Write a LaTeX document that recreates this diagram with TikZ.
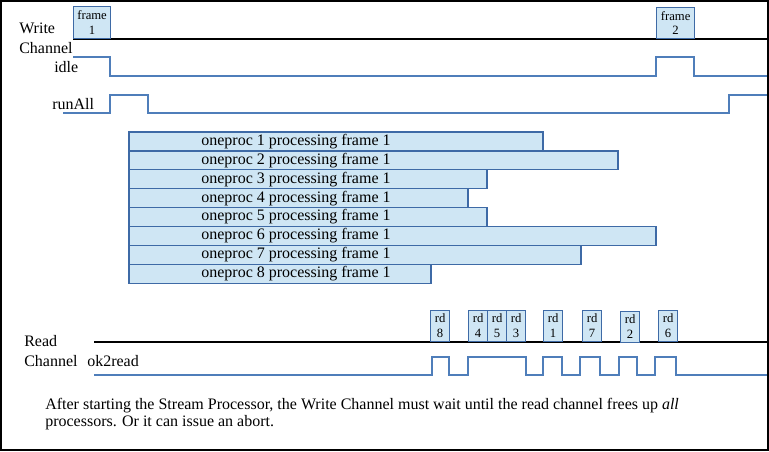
\documentclass[tikz,border=0pt]{standalone}
\usepackage{fontspec}
\setmainfont{Liberation Serif}
\definecolor{boxfill}{RGB}{207,230,244}
\definecolor{boxline}{RGB}{62,106,166}
\definecolor{sigblue}{RGB}{79,126,186}
\tikzset{
    lbl/.style={anchor=base west, inner sep=0pt, font=\fontsize{12}{14}\selectfont},
    tick/.style={draw=boxline, fill=boxfill, line width=0.9pt, inner sep=0pt,
        minimum width=19*0.75pt, minimum height=31*0.75pt, align=center,
        font=\fontsize{9.5}{11}\selectfont},
    bar/.style={draw=boxline, fill=boxfill, line width=0.9pt},
    signal/.style={draw=sigblue, line width=1.1pt}
}
\begin{document}
\begin{tikzpicture}[x=0.75pt, y=-0.75pt]
    \useasboundingbox (0,0) rectangle (769,451);
    \draw[line width=1.2pt] (0.8,0.8) rectangle (768.2,450.2);

    % Write Channel
    \node[lbl, align=left, font=\fontsize{12}{15}\selectfont] (wlabel) at (19,53) {Write\\Channel};
    \draw[line width=0.9pt] (73,39) -- (767,39);
    \node[tick, minimum width=37*0.75pt, minimum height=32*0.75pt, anchor=south west] (frame1) at (73,39) {frame\\1};
    \node[tick, minimum width=38*0.75pt, minimum height=31*0.75pt, anchor=south west] (frame2) at (656,39) {frame\\2};

    % idle
    \node[lbl] (idle) at (54,72) {idle};
    \draw[signal] (73,57) -- (110,57) -- (110,76) -- (656,76) -- (656,57)
        -- (694,57) -- (694,76) -- (767,76);

    % runAll
    \node[lbl] (runall) at (52,109) {runAll};
    \draw[signal] (63,113) -- (110,113) -- (110,95) -- (148,95) -- (148,113)
        -- (729,113) -- (729,95) -- (767,95);

    % oneproc bars
    \foreach \i/\e in {1/543,2/618,3/487,4/468,5/487,6/656,7/581,8/431} {
        \draw[bar] (129,{132+(\i-1)*18.9}) rectangle (\e,{132+\i*18.9});
        \node[inner sep=0pt, font=\fontsize{12}{14}\selectfont] (proc\i) at (296,{132+(\i-0.5)*18.9}) {oneproc \i\ processing frame 1};
    }

    % Read Channel
    \node[lbl, align=left, font=\fontsize{12}{14.3}\selectfont] (rlabel) at (24,366) {Read\\Channel};
    \draw[line width=0.9pt] (94,342) -- (767,342);
    \foreach \n/\x in {8/430,4/468,5/487,3/506,1/543,7/582,6/658}
        \node[tick, anchor=south west] (rd\n) at (\x,342) {rd\\\n};
    \node[tick, anchor=south west] (rd2) at (620,343) {rd\\2};

    % ok2read
    \node[lbl] (okread) at (87,366) {ok2read};
    \draw[signal] (94,375) -- (432,375) -- (432,357) -- (449,357) -- (449,375)
        -- (468,375) -- (468,357) -- (526,357) -- (526,375)
        -- (543,375) -- (543,357) -- (562,357) -- (562,375)
        -- (580,375) -- (580,357) -- (600,357) -- (600,375)
        -- (619,375) -- (619,357) -- (637,357) -- (637,375)
        -- (655,375) -- (655,357) -- (676,357) -- (676,375) -- (767,375);

    % caption
    \node[lbl, align=left, font=\fontsize{12}{12.75}\selectfont] (caption) at (45,426)
        {After starting the Stream Processor, the Write Channel must wait until the read channel frees up \textit{all}\\
         processors. Or it can issue an abort.};
\end{tikzpicture}
\end{document}
